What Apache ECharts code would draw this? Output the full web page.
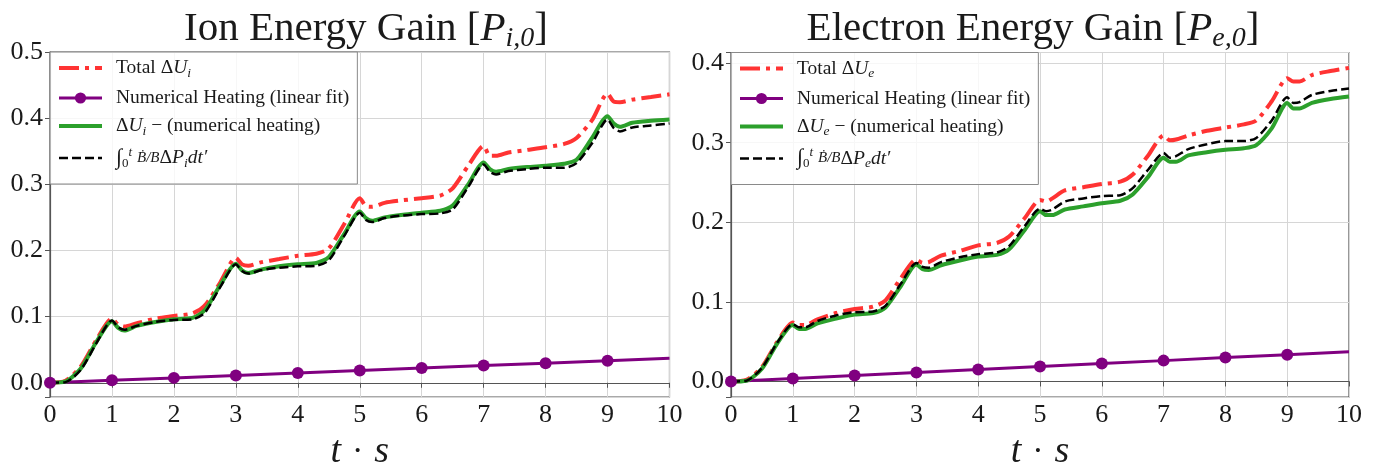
<!DOCTYPE html>
<html><head><meta charset="utf-8">
<script src="https://cdn.jsdelivr.net/npm/echarts@6/dist/echarts.min.js"></script>
<style>html,body{margin:0;padding:0;background:#fff}#c{width:1379px;height:466px}</style>
</head><body><div id="c"></div>
<script>
// ---- data ----
const tGrid = [0,0.25,0.5,0.75,1.0,1.1,1.2,1.4,1.7,2.0,2.3,2.5,2.75,3.0,3.1,3.2,3.4,3.7,4.0,4.3,4.5,4.75,5.0,5.1,5.2,5.4,5.7,6.0,6.3,6.5,6.75,7.0,7.1,7.2,7.4,7.7,8.0,8.3,8.5,8.75,9.0,9.1,9.2,9.4,9.7,10.0];

const ionTotal = [0,0.003,0.025,0.065,0.097,0.088,0.085,0.09,0.097,0.101,0.105,0.117,0.152,0.189,0.179,0.177,0.182,0.187,0.192,0.195,0.203,0.24,0.279,0.267,0.266,0.272,0.276,0.279,0.283,0.294,0.328,0.358,0.343,0.343,0.348,0.352,0.356,0.361,0.37,0.397,0.437,0.425,0.424,0.428,0.432,0.436];
const ionCorrected = [0,0.002,0.022,0.062,0.093,0.083,0.079,0.086,0.092,0.096,0.098,0.11,0.148,0.18,0.17,0.166,0.171,0.176,0.179,0.181,0.19,0.225,0.259,0.249,0.245,0.25,0.254,0.257,0.26,0.268,0.3,0.333,0.323,0.319,0.323,0.326,0.328,0.331,0.337,0.37,0.403,0.392,0.387,0.393,0.396,0.398];
const ionIntegral = [0,0.001,0.02,0.06,0.094,0.084,0.08,0.086,0.092,0.095,0.096,0.106,0.145,0.179,0.169,0.165,0.17,0.174,0.176,0.177,0.185,0.222,0.257,0.246,0.243,0.249,0.253,0.255,0.256,0.262,0.296,0.33,0.319,0.315,0.32,0.323,0.325,0.325,0.332,0.362,0.398,0.385,0.38,0.386,0.389,0.392];

const eleTotal = [0,0.002,0.018,0.05,0.074,0.071,0.071,0.078,0.086,0.091,0.094,0.102,0.13,0.153,0.149,0.15,0.158,0.164,0.171,0.174,0.182,0.205,0.228,0.226,0.23,0.24,0.244,0.248,0.251,0.26,0.284,0.309,0.303,0.304,0.309,0.315,0.319,0.323,0.328,0.352,0.381,0.377,0.377,0.385,0.39,0.394];
const eleCorrected = [0,0.001,0.016,0.048,0.071,0.066,0.066,0.073,0.079,0.084,0.086,0.093,0.12,0.147,0.141,0.14,0.146,0.152,0.157,0.159,0.166,0.19,0.214,0.209,0.209,0.216,0.22,0.224,0.227,0.235,0.257,0.281,0.276,0.276,0.284,0.288,0.291,0.293,0.297,0.318,0.35,0.343,0.343,0.35,0.355,0.358];
const eleIntegral = [0,0.001,0.017,0.049,0.072,0.068,0.068,0.076,0.083,0.087,0.088,0.095,0.123,0.149,0.144,0.143,0.15,0.156,0.16,0.162,0.17,0.195,0.217,0.214,0.216,0.226,0.23,0.233,0.234,0.243,0.266,0.287,0.281,0.283,0.292,0.298,0.302,0.302,0.306,0.328,0.357,0.35,0.351,0.36,0.365,0.368];

const heatT = [0,1,2,3,4,5,6,7,8,9,10];
const ionHeat = [0,0.0037,0.0074,0.011,0.0148,0.0185,0.0222,0.026,0.0296,0.0333,0.037];
const eleHeat = [0,0.0037,0.0075,0.0112,0.015,0.0188,0.0225,0.0262,0.03,0.0337,0.0375];

const xTickLabels = ['0','1','2','3','4','5','6','7','8','9','10'];
const ionYTickLabels = ['0.0','0.1','0.2','0.3','0.4','0.5'];
const eleYTickLabels = ['0.0','0.1','0.2','0.3','0.4'];

const namesIon = ['Total ΔU_i','Numerical Heating (linear fit)','ΔU_i − (numerical heating)','int_i'];
const namesEle = ['Total ΔU_e','Numerical Heating (linear fit) ','ΔU_e − (numerical heating)','int_e'];

// ---- styling ----
const F = 'Liberation Serif';
const RED = '#ff3333', GREEN = '#2ca02c', PURPLE = '#800080', BLACK = '#000000';
const AX = '#555555', GRIDC = '#d6d6d6', TXT = '#1a1a1a';

function zip(xs, ys){ return xs.map((x,i)=>[x, ys[i]]); }

const legendRich = {
  gap:{width:9, fontSize:19.5, lineHeight:24},
  n:{fontFamily:F, fontSize:19.5, color:TXT, lineHeight:24},
  it:{fontFamily:F, fontSize:19.5, color:TXT, fontStyle:'italic', lineHeight:24},
  sb:{fontFamily:F, fontSize:13.5, color:TXT, fontStyle:'italic', verticalAlign:'bottom', lineHeight:15},
  sbn:{fontFamily:F, fontSize:13, color:TXT, verticalAlign:'bottom', lineHeight:14},
  sp:{fontFamily:F, fontSize:13, color:TXT, fontStyle:'italic', verticalAlign:'top', lineHeight:14},
  int:{fontFamily:F, fontSize:22, color:TXT, fontStyle:'italic', lineHeight:24},
  fr:{fontFamily:F, fontSize:15, color:TXT, fontStyle:'italic', lineHeight:24}
};
function legendFmt(name){
  const s = name.trim();
  if (s.startsWith('Total')) { const k = s.slice(-1); return '{gap| }{n|Total Δ}{it|U}{sb|'+k+'}'; }
  if (s.startsWith('Numerical')) return '{gap| }{n|Numerical Heating (linear fit)}';
  if (s.startsWith('ΔU')) { const k = s.charAt(3); return '{gap| }{n|Δ}{it|U}{sb|'+k+'}{n| − (numerical heating)}'; }
  const k = s.slice(-1);
  return '{gap| }{int|∫}{sbn|0}{sp|t} {fr|Ḃ/B}{n|Δ}{it|P}{sb|'+k+'}{it|dt′}';
}

function titleOpt(main, sub, cx){
  return {
    text: '{t|'+main+' [}{ti|P}{ts|'+sub+'}{t|]}',
    left: cx, top: 1, textAlign: 'center',
    textStyle: { fontWeight:'normal', rich: {
      t:{fontFamily:F, fontSize:41, fontWeight:'normal', color:TXT, lineHeight:47},
      ti:{fontFamily:F, fontSize:41, fontWeight:'normal', color:TXT, fontStyle:'italic', lineHeight:47},
      ts:{fontFamily:F, fontSize:28, fontWeight:'normal', color:TXT, fontStyle:'italic', verticalAlign:'bottom', lineHeight:32}
    }}
  };
}

function legendOpt(names, left, top){
  return {
    show:true, orient:'vertical', left:left, top:top,
    data:names.map((n,i)=> i===1 ? {name:n} : {name:n, itemStyle:{opacity:0}}),
    formatter:legendFmt,
    itemWidth:43, itemHeight:14, itemGap:8,
    padding:[6,8,14,7],
    backgroundColor:'rgba(255,255,255,0.8)',
    borderColor:'#8a8a8a', borderWidth:1, borderRadius:0,
    lineStyle:{width:'inherit'},
    textStyle:{fontFamily:F, fontSize:19.5, color:TXT, rich:legendRich},
    selectedMode:false
  };
}

function xAxisOpt(gi){
  return {
    type:'value', gridIndex:gi, min:0, max:10, interval:1,
    name:'{i|t}{g| }{n|·}{g| }{i|s}', nameLocation:'middle', nameGap:35,
    nameTextStyle:{rich:{
      i:{fontFamily:F, fontSize:38, fontStyle:'italic', color:TXT, lineHeight:38},
      n:{fontFamily:F, fontSize:34, color:TXT, lineHeight:38},
      g:{width:11, fontSize:34, lineHeight:38}
    }},
    axisLine:{show:true, lineStyle:{color:AX, width:1.2}},
    axisTick:{show:true, inside:false, length:5, lineStyle:{color:AX, width:1}},
    axisLabel:{fontFamily:F, fontSize:26, color:TXT, margin:5,
      formatter:(v)=>{ const s = String(Math.round(v)); return xTickLabels.includes(s)&&Math.abs(v-Math.round(v))<1e-9 ? s : ''; }},
    splitLine:{show:true, lineStyle:{color:GRIDC, width:1}}
  };
}
function yAxisOpt(gi, min, max, labels){
  return {
    type:'value', gridIndex:gi, min:min, max:max, splitNumber:5,
    axisLine:{show:true, lineStyle:{color:AX, width:1.2}},
    axisTick:{show:true, inside:false, length:5, lineStyle:{color:AX, width:1}},
    axisLabel:{fontFamily:F, fontSize:26, color:TXT, margin:7, showMinLabel:true,
      formatter:(v)=>{ const s=v.toFixed(1); return (Math.abs(v-parseFloat(s))<1e-6 && labels.includes(s)) ? s : ''; }},
    splitLine:{show:true, lineStyle:{color:GRIDC, width:1}}
  };
}

function seriesFor(gi, names, total, heat, corr, integ){
  const heatData = heatT.map((t,i)=> i===heatT.length-1 ? {value:[t,heat[i]], symbol:'none'} : [t,heat[i]]);
  return [
    {name:names[0], type:'line', xAxisIndex:gi, yAxisIndex:gi, data:zip(tGrid,total), symbol:'none', smooth:0.25,
      lineStyle:{color:RED, width:4, type:[20,6,4,6]}, itemStyle:{color:RED}, clip:true},
    {name:names[1], type:'line', xAxisIndex:gi, yAxisIndex:gi, data:heatData, symbol:'circle', symbolSize:12, showAllSymbol:true,
      lineStyle:{color:PURPLE, width:3}, itemStyle:{color:PURPLE}, clip:true},
    {name:names[2], type:'line', xAxisIndex:gi, yAxisIndex:gi, data:zip(tGrid,corr), symbol:'none', smooth:0.25,
      lineStyle:{color:GREEN, width:4}, itemStyle:{color:GREEN}, clip:true},
    {name:names[3], type:'line', xAxisIndex:gi, yAxisIndex:gi, data:zip(tGrid,integ), symbol:'none', smooth:0.25,
      lineStyle:{color:BLACK, width:2.5, type:[9,4]}, itemStyle:{color:BLACK}, clip:true}
  ];
}

const chart = echarts.init(document.getElementById('c'), null, {renderer:'canvas'});
chart.setOption({
  animation:false,
  backgroundColor:'#ffffff',
  title:[ titleOpt('Ion Energy Gain','i,0',361), titleOpt('Electron Energy Gain','e,0',1028) ],
  legend:[ legendOpt(namesIon, 50, 52), legendOpt(namesEle, 731, 52.5) ],
  grid:[
    {left:50, top:52, width:619.5, height:345, show:true, borderColor:AX, borderWidth:1.2, backgroundColor:'transparent', containLabel:false, outerBoundsMode:'none'},
    {left:731, top:52.5, width:618, height:344.5, show:true, borderColor:AX, borderWidth:1.2, backgroundColor:'transparent', containLabel:false, outerBoundsMode:'none'}
  ],
  xAxis:[ xAxisOpt(0), xAxisOpt(1) ],
  yAxis:[ yAxisOpt(0, -0.0215, 0.5, ionYTickLabels), yAxisOpt(1, -0.0195, 0.4133, eleYTickLabels) ],
  series:[
    ...seriesFor(0, namesIon, ionTotal, ionHeat, ionCorrected, ionIntegral),
    ...seriesFor(1, namesEle, eleTotal, eleHeat, eleCorrected, eleIntegral)
  ]
});
</script></body></html>
